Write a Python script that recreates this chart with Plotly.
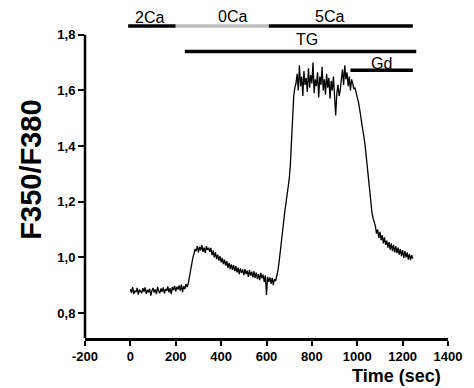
import numpy as np
import plotly.graph_objects as go

# sample times (sec)
time_s = np.arange(0, 1250, 5)

# F350/F380 ratio
ratio = [
    0.885, 0.872, 0.893, 0.868, 0.880, 0.875, 0.890, 0.866, 0.884, 0.878,
    0.871, 0.889, 0.876, 0.892, 0.869, 0.883, 0.874, 0.887, 0.862, 0.880,
    0.890, 0.873, 0.885, 0.868, 0.894, 0.879, 0.871, 0.888, 0.876, 0.892,
    0.870, 0.886, 0.880, 0.895, 0.874, 0.889, 0.868, 0.893, 0.882, 0.897,
    0.878, 0.894, 0.884, 0.899, 0.880, 0.902, 0.875, 0.896, 0.886, 0.904,
    0.893, 0.905, 0.930, 0.955, 0.978, 0.997, 1.012, 1.030, 1.022, 1.040,
    1.018, 1.038, 1.025, 1.044, 1.020, 1.035, 1.016, 1.040, 1.027, 1.034,
    1.020, 1.034, 1.008, 1.024, 1.000, 1.018, 0.994, 1.010, 0.988, 1.004,
    0.982, 0.998, 0.976, 0.992, 0.970, 0.986, 0.962, 0.980, 0.958, 0.975,
    0.955, 0.972, 0.950, 0.968, 0.946, 0.963, 0.940, 0.960, 0.944, 0.956,
    0.936, 0.958, 0.940, 0.952, 0.930, 0.955, 0.934, 0.948, 0.928, 0.950,
    0.926, 0.945, 0.922, 0.940, 0.918, 0.944, 0.925, 0.938, 0.912, 0.935,
    0.865, 0.930, 0.912, 0.928, 0.905, 0.926, 0.900, 0.922, 0.915, 0.930,
    0.950, 0.980, 1.020, 1.050, 1.090, 1.120, 1.160, 1.190, 1.220, 1.250,
    1.280, 1.330, 1.420, 1.520, 1.580, 1.610, 1.625, 1.660, 1.600, 1.690,
    1.615, 1.650, 1.580, 1.670, 1.620, 1.645, 1.595, 1.680, 1.610, 1.655,
    1.625, 1.700, 1.590, 1.640, 1.615, 1.665, 1.575, 1.650, 1.620, 1.685,
    1.600, 1.640, 1.585, 1.660, 1.610, 1.645, 1.570, 1.635, 1.600, 1.650,
    1.560, 1.510, 1.590, 1.620, 1.580, 1.600, 1.640, 1.675, 1.620, 1.690,
    1.640, 1.665, 1.615, 1.650, 1.600, 1.640, 1.625, 1.605, 1.610, 1.585,
    1.575, 1.560, 1.540, 1.510, 1.480, 1.460, 1.430, 1.400, 1.360, 1.320,
    1.270, 1.230, 1.190, 1.160, 1.140, 1.125, 1.112, 1.085, 1.100, 1.070,
    1.092, 1.062, 1.080, 1.050, 1.072, 1.045, 1.060, 1.035, 1.055, 1.028,
    1.050, 1.022, 1.045, 1.018, 1.040, 1.015, 1.035, 1.010, 1.030, 1.004,
    1.026, 0.998, 1.022, 1.000, 1.018, 0.992, 1.012, 0.990, 1.008, 0.996,
]

# treatment bars: label, start, end, level, colour, label x, label y
bar_labels = ["2Ca", "0Ca", "5Ca", "TG", "Gd"]
bar_start = [-10, 200, 610, 240, 970]
bar_end = [200, 610, 1245, 1260, 1245]
bar_level = [1.832, 1.832, 1.832, 1.740, 1.673]
bar_colors = ["black", "#bdbdbd", "black", "black", "black"]
label_x = [86, 452, 879, 777, 1107]
label_y = [1.862, 1.866, 1.866, 1.782, 1.698]

x_ticks = [-200, 0, 200, 400, 600, 800, 1000, 1200, 1400]
x_ticktext = ["-200", "0", "200", "400", "600", "800", "1000", "1200", "1400"]
y_ticks = [0.8, 1.0, 1.2, 1.4, 1.6, 1.8]
y_ticktext = ["0,8", "1,0", "1,2", "1,4", "1,6", "1,8"]

FONT = "Liberation Sans, Arial, sans-serif"

fig = go.Figure()
fig.add_trace(go.Scatter(x=time_s, y=ratio, mode="lines",
                         line=dict(color="black", width=1.3), showlegend=False,
                         hoverinfo="skip"))

for lab, s, e, lv, c in zip(bar_labels, bar_start, bar_end, bar_level, bar_colors):
    fig.add_trace(go.Scatter(x=[s, e], y=[lv, lv], mode="lines",
                             line=dict(color=c, width=3.5), showlegend=False,
                             hoverinfo="skip"))

for lab, lx, ly in zip(bar_labels, label_x, label_y):
    fig.add_annotation(x=lx, y=ly, xref="x", yref="y", text=lab, showarrow=False,
                       font=dict(family=FONT, size=16, color="black"),
                       xanchor="center", yanchor="middle")

# y axis line only up to 1.8
fig.add_shape(type="line", xref="paper", yref="y", x0=0, x1=0, y0=0.71, y1=1.8,
              line=dict(color="black", width=2.5))

fig.add_annotation(x=-0.149, y=1.315, xref="paper", yref="y", text="F350/F380",
                   textangle=-90, showarrow=False,
                   font=dict(family=FONT, size=29, color="black", weight="bold"),
                   xanchor="center", yanchor="middle")
fig.add_annotation(x=1175, y=-0.115, xref="x", yref="paper", text="Time (sec)",
                   showarrow=False,
                   font=dict(family=FONT, size=18, color="black", weight="bold"),
                   xanchor="center", yanchor="middle")

fig.update_layout(
    width=474, height=388,
    margin=dict(l=85, r=26, t=7, b=50),
    plot_bgcolor="white", paper_bgcolor="white",
    xaxis=dict(range=[-200, 1400], tickvals=x_ticks, ticktext=x_ticktext,
               showgrid=False, zeroline=False,
               showline=True, linecolor="black", linewidth=2.5,
               ticks="outside", ticklen=5, tickwidth=2, tickcolor="black",
               tickfont=dict(family=FONT, size=13, color="black", weight="bold")),
    yaxis=dict(range=[0.71, 1.9], tickvals=y_ticks, ticktext=y_ticktext,
               showgrid=False, zeroline=False, showline=False,
               ticks="outside", ticklen=6, tickwidth=2, tickcolor="black",
               tickfont=dict(family=FONT, size=13, color="black", weight="bold")),
)

fig.write_html("out.html", config={"displayModeBar": False},
               post_script="document.body.style.margin='0';document.body.style.overflow='hidden';")
